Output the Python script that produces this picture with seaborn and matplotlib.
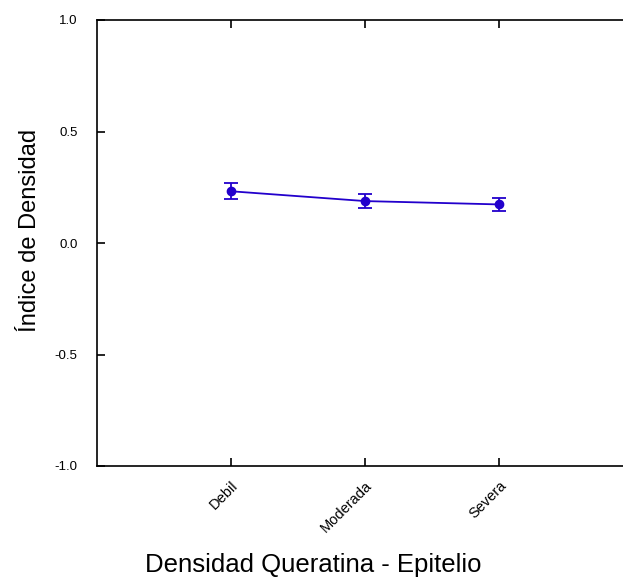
import matplotlib; matplotlib.use("Agg")
import matplotlib.pyplot as plt
import pandas as pd
import seaborn as sns
import numpy as np

categorias = ["Debil", "Moderada", "Severa"]
indice = [0.232, 0.188, 0.173]
error = [0.035, 0.031, 0.030]

sns.set_style("ticks")
plt.rcParams["font.family"] = ["Liberation Sans", "DejaVu Sans"]
plt.rcParams["text.color"] = "black"
plt.rcParams["axes.edgecolor"] = "black"
plt.rcParams["xtick.color"] = "black"
plt.rcParams["ytick.color"] = "black"

df = pd.DataFrame({"cat": categorias, "val": indice, "err": error})
color = "#2200cc"

fig = plt.figure(figsize=(6.23, 5.8), dpi=100)
ax = fig.add_axes([97 / 623, 114 / 580, 536 / 623, 446 / 580])

sns.pointplot(data=df, x="cat", y="val", color=color, markers="o",
              linewidth=1.3, markersize=6, errorbar=None, ax=ax)
ax.errorbar(np.arange(len(categorias)), df["val"], yerr=df["err"], fmt="none",
            ecolor=color, elinewidth=1.3, capsize=5, capthick=1.3)

ax.set_xlim(-1, 3)
ax.set_ylim(-1, 1)
ax.set_yticks([-1.0, -0.5, 0.0, 0.5, 1.0])
ax.set_yticklabels(["-1.0", "-0.5", "0.0", "0.5", "1.0"], fontsize=9.5)
ax.set_xticks(range(len(categorias)))
ax.set_xticklabels(categorias, fontsize=10.5, rotation=45, ha="right",
                   rotation_mode="anchor")

for s in ax.spines.values():
    s.set_linewidth(1.2)
    s.set_color("black")
ax.tick_params(direction="in", length=6, width=1.2, top=True, right=True,
               color="black", labelcolor="black")
ax.tick_params(axis="y", pad=14)
ax.tick_params(axis="x", pad=9)

ax.set_xlabel("")
ax.set_ylabel("")
fig.text(313 / 623, 15 / 580, "Densidad Queratina - Epitelio", fontsize=18.5,
         ha="center", va="center", color="black")
fig.text(30 / 623, 350 / 580, "Índice de Densidad", fontsize=17,
         rotation=90, ha="center", va="center", color="black")

fig.savefig("out.png", dpi=100)
